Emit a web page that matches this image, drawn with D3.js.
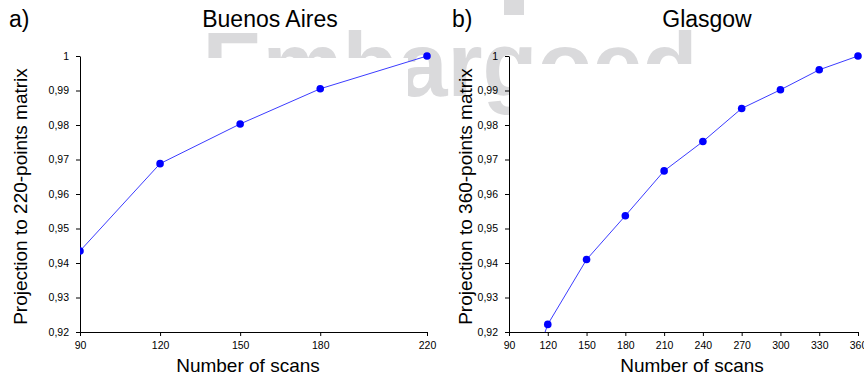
<!DOCTYPE html>
<html>
<head>
<meta charset="utf-8">
<script src="https://cdn.jsdelivr.net/npm/d3@7"></script>
<style>
  body { margin: 0; background: #fff; }
  svg { display: block; font-family: "Liberation Sans", Arial, sans-serif; }
</style>
</head>
<body>
<figure id="chart" style="margin:0"></figure>
<script>
// Buenos Aires (panel a)
const scansA = [90, 120, 150, 180, 220];
const projA = [0.9435, 0.9688, 0.9803, 0.9905, 1.0];
const xTicksA = [90, 120, 150, 180, 220];

// Glasgow (panel b) - first point sits below the axis and is clipped
const scansB = [90, 120, 150, 180, 210, 240, 270, 300, 330, 360];
const projB = [0.890, 0.9222, 0.9410, 0.9537, 0.9667, 0.9752, 0.9848, 0.9902, 0.9960, 1.0];
const xTicksB = [90, 120, 150, 180, 210, 240, 270, 300, 330, 360];

const yTicks = [0.92, 0.93, 0.94, 0.95, 0.96, 0.97, 0.98, 0.99, 1];

const width = 864, height = 377;

const svg = d3.select("figure#chart")
  .append("svg")
  .attr("width", width)
  .attr("height", height);

// watermark behind everything
svg.append("text")
  .attr("x", 450)
  .attr("y", 96)
  .attr("text-anchor", "middle")
  .style("font-size", "90px")
  .style("font-weight", "bold")
  .style("fill", "#dadadc")
  .text("Embargoed");

// stray piece of the watermark at the top edge
svg.append("rect")
  .attr("x", 504).attr("y", 0)
  .attr("width", 20).attr("height", 15)
  .style("fill", "#dadadc");

const fmt = d => d === 1 ? "1" : d.toFixed(2).replace(".", ",");

function drawPanel(opts) {
  const x = d3.scaleLinear().domain(opts.xDomain).range(opts.xRange);
  const y = d3.scaleLinear().domain([0.92, 1]).range([332, 56]);
  const g = svg.append("g");

  // white plot background hides the lower part of the watermark
  g.append("rect")
    .attr("x", opts.xRange[0] + 1)
    .attr("y", opts.coverTop)
    .attr("width", opts.coverRight - opts.xRange[0] - 1)
    .attr("height", 331 - opts.coverTop)
    .style("fill", "#fff");

  // clip to plot area
  const clipId = "clip-" + opts.key;
  g.append("clipPath").attr("id", clipId)
    .append("rect")
    .attr("x", opts.xRange[0]).attr("y", 50)
    .attr("width", opts.xRange[1] - opts.xRange[0] + 6)
    .attr("height", 332 - 50);

  // Add X axis
  const xAxis = g.append("g")
    .attr("transform", "translate(0,332)")
    .call(d3.axisBottom(x).tickValues(opts.xTicks).tickSize(4).tickSizeOuter(0).tickPadding(6));

  // Add Y axis
  const yAxis = g.append("g")
    .attr("transform", "translate(" + opts.xRange[0] + ",0)")
    .call(d3.axisLeft(y).tickValues(yTicks).tickFormat(fmt).tickSize(4).tickSizeOuter(0).tickPadding(7));

  [xAxis, yAxis].forEach(a => {
    a.selectAll("text").style("font-size", "10.5px").style("fill", "#000")
      .style("font-family", "'Liberation Sans', Arial, sans-serif");
    a.selectAll("path, line").style("stroke", "#000");
  });

  const data = opts.xs.map((d, i) => ({ x: d, y: opts.ys[i] }));

  const line = d3.line().x(d => x(d.x)).y(d => y(d.y));
  const plot = g.append("g").attr("clip-path", "url(#" + clipId + ")");
  plot.append("path")
    .datum(data)
    .attr("d", line)
    .style("fill", "none")
    .style("stroke", "#3c3cff")
    .style("stroke-width", 1);

  // Add dots
  plot.selectAll("circle")
    .data(data.filter(d => d.y >= 0.92))
    .enter()
    .append("circle")
    .attr("cx", d => x(d.x))
    .attr("cy", d => y(d.y))
    .attr("r", 3.8)
    .style("fill", "#0000ff");

  // Axis titles
  g.append("text")
    .attr("x", opts.xLabelX)
    .attr("y", 372)
    .attr("text-anchor", "middle")
    .style("font-size", "19px")
    .text("Number of scans");

  g.append("text")
    .attr("transform", "translate(" + opts.yLabelX + ",196.5) rotate(-90)")
    .attr("text-anchor", "middle")
    .style("font-size", "19px")
    .text(opts.yLabel);

  // Panel letter and city title
  g.append("text")
    .attr("x", opts.letterX)
    .attr("y", 27)
    .style("font-size", "23px")
    .text(opts.letter);

  g.append("text")
    .attr("x", opts.titleX)
    .attr("y", 27)
    .attr("text-anchor", "middle")
    .style("font-size", "23px")
    .text(opts.title);
}

drawPanel({
  key: "a", xs: scansA, ys: projA, xTicks: xTicksA,
  xDomain: [90, 220], xRange: [80, 427], coverTop: 58, coverRight: 408,
  xLabelX: 248, yLabelX: 27, yLabel: "Projection to 220-points matrix",
  letter: "a)", letterX: 9, title: "Buenos Aires", titleX: 270
});

drawPanel({
  key: "b", xs: scansB, ys: projB, xTicks: xTicksB,
  xDomain: [90, 360], xRange: [509, 858], coverTop: 64, coverRight: 862,
  xLabelX: 692, yLabelX: 472, yLabel: "Projection to 360-points matrix",
  letter: "b)", letterX: 452, title: "Glasgow", titleX: 707
});
</script>
</body>
</html>
